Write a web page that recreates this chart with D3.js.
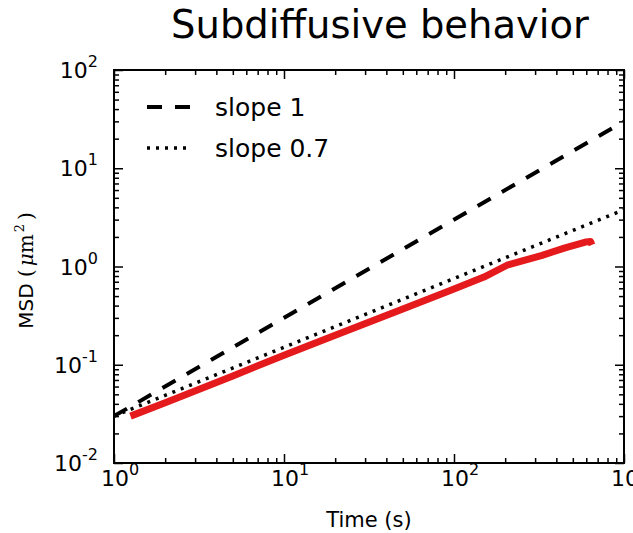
<!DOCTYPE html>
<html>
<head>
<meta charset="utf-8">
<script src="https://cdn.jsdelivr.net/npm/d3@7"></script>
<style>
  body { margin: 0; background: #fff; }
  text { font-family: "DejaVu Sans", sans-serif; fill: #000; }
</style>
</head>
<body>
<svg id="chart" width="633" height="533"></svg>
<script>
// measured MSD curve (red)
var times = [1.25, 2, 5, 10, 20, 50, 95, 150, 205, 330, 450, 600, 635, 648];
var msd   = [0.030, 0.041, 0.077, 0.125, 0.20, 0.37, 0.57, 0.78, 1.03, 1.30, 1.55, 1.78, 1.80, 1.66];

// reference power laws, both start at 0.03 for t = 1
var refT = [1, 1000];
var slope1 = [0.03, 30];
var slope07 = [0.03, 3.78];

var xDecades = [1, 10, 100, 1000];
var yDecades = [0.01, 0.1, 1, 10, 100];

var margin = {top: 70, right: 9, bottom: 70, left: 114},
    width = 633 - margin.left - margin.right,
    height = 533 - margin.top - margin.bottom;

var svg = d3.select('#chart');

var x = d3.scaleLog().domain([1, 1000]).range([0, width]);
var y = d3.scaleLog().domain([0.01, 100]).range([height, 0]);

var g = svg.append('g')
    .attr('transform', 'translate(' + margin.left + ',' + margin.top + ')');

var line = d3.line()
    .x(function(d) { return x(d[0]); })
    .y(function(d) { return y(d[1]); });

g.append('defs').append('clipPath').attr('id', 'clip')
  .append('rect').attr('width', width).attr('height', height);

var plot = g.append('g').attr('clip-path', 'url(#clip)');

plot.append('path')
    .datum(d3.zip(refT, slope1))
    .attr('d', line)
    .attr('fill', 'none')
    .attr('stroke', '#000')
    .attr('stroke-width', 4)
    .attr('stroke-dasharray', '15,13');

plot.append('path')
    .datum(d3.zip(refT, slope07))
    .attr('d', line)
    .attr('fill', 'none')
    .attr('stroke', '#000')
    .attr('stroke-width', 3.5)
    .attr('stroke-dasharray', '3,6');

plot.append('path')
    .datum(d3.zip(times, msd))
    .attr('d', line)
    .attr('fill', 'none')
    .attr('stroke', '#e41a1c')
    .attr('stroke-width', 7)
    .attr('stroke-linejoin', 'round');

// ticks, pointing inward on all four sides
function minorOf(scale) {
  return scale.ticks().filter(function(v) {
    return Math.abs(Math.log10(v) - Math.round(Math.log10(v))) > 1e-9;
  });
}

function addAxis(axis, transform) {
  var a = g.append('g').attr('transform', transform).call(axis);
  a.select('.domain').remove();
  a.selectAll('line').attr('stroke', '#000').attr('stroke-width', 1.5);
  return a;
}

[[d3.axisBottom, 'translate(0,' + height + ')', x, xDecades],
 [d3.axisTop, 'translate(0,0)', x, xDecades],
 [d3.axisLeft, 'translate(0,0)', y, yDecades],
 [d3.axisRight, 'translate(' + width + ',0)', y, yDecades]].forEach(function(s) {
  addAxis(s[0](s[2]).tickValues(minorOf(s[2])).tickSize(-5).tickFormat(''), s[1]);
  addAxis(s[0](s[2]).tickValues(s[3]).tickSize(-9).tickFormat(''), s[1]);
});

g.append('rect')
    .attr('width', width)
    .attr('height', height)
    .attr('fill', 'none')
    .attr('stroke', '#000')
    .attr('stroke-width', 2);

// tick labels as 10 with superscript exponent
function powLabel(sel, v) {
  var e = Math.round(Math.log10(v));
  sel.append('tspan').text('10');
  sel.append('tspan').attr('dy', -11).attr('font-size', 16).text(e < 0 ? '-' + (-e) : e);
}

g.selectAll('.xlab').data(xDecades).enter().append('text')
    .attr('class', 'xlab')
    .attr('x', function(d) { return x(d) + 6; })
    .attr('y', height + 23)
    .attr('text-anchor', 'middle')
    .attr('font-size', 22)
    .each(function(d) { powLabel(d3.select(this), d); });

g.selectAll('.ylab').data(yDecades).enter().append('text')
    .attr('class', 'ylab')
    .attr('x', -16)
    .attr('y', function(d) { return y(d) + 8; })
    .attr('text-anchor', 'end')
    .attr('font-size', 22)
    .each(function(d) { powLabel(d3.select(this), d); });

// axis titles
svg.append('text')
    .attr('x', margin.left + width / 2)
    .attr('y', 527)
    .attr('text-anchor', 'middle')
    .attr('font-size', 21)
    .text('Time (s)');

var yt = svg.append('text')
    .attr('transform', 'translate(33,' + (margin.top + height / 2 + 4) + ') rotate(-90)')
    .attr('text-anchor', 'middle')
    .attr('font-size', 20);
yt.append('tspan').text('MSD ');
yt.append('tspan').attr('font-family', 'DejaVu Serif').text('(');
yt.append('tspan').attr('font-family', 'DejaVu Serif').attr('font-style', 'italic').attr('dx', 3).text('μ');
yt.append('tspan').attr('font-family', 'DejaVu Serif').text('m');
yt.append('tspan').attr('font-family', 'DejaVu Serif').attr('font-size', 13).attr('dy', -9).attr('dx', 2).text('2');
yt.append('tspan').attr('font-family', 'DejaVu Serif').attr('dy', 9).attr('dx', 4).text(')');

// title
svg.append('text')
    .attr('x', 380)
    .attr('y', 38)
    .attr('text-anchor', 'middle')
    .attr('font-family', 'Open Sans')
    .attr('font-size', 38.5)
    .text('Subdiffusive behavior');

// legend
var legend = [
  {label: 'slope 1', dash: '15,13', w: 4},
  {label: 'slope 0.7', dash: '3,6', w: 3.5}
];
var lg = g.selectAll('.legend').data(legend).enter().append('g')
    .attr('class', 'legend')
    .attr('transform', function(d, i) { return 'translate(33,' + (37 + i * 41) + ')'; });
lg.append('line')
    .attr('x1', 0).attr('x2', 43)
    .attr('stroke', '#000')
    .attr('stroke-width', function(d) { return d.w; })
    .attr('stroke-dasharray', function(d) { return d.dash; });
lg.append('text')
    .attr('x', 68)
    .attr('y', 9)
    .attr('font-size', 25)
    .text(function(d) { return d.label; });
</script>
</body>
</html>
